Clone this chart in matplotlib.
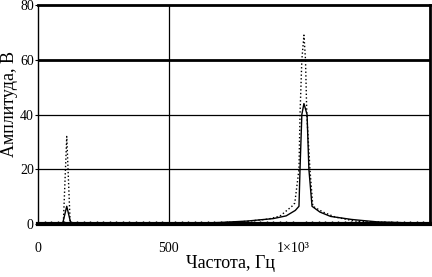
import numpy as np
from matplotlib import pyplot as plt
from matplotlib.ticker import FixedLocator, FixedFormatter, MultipleLocator
from matplotlib.transforms import ScaledTranslation

plt.rcParams['font.family'] = ['Liberation Serif', 'DejaVu Serif']

# Сплошная кривая (частота, Гц / амплитуда, В)
f_sol = [0, 80, 95, 110, 125, 140, 600, 700, 800, 900, 950, 985, 999, 1003,
         1010, 1018, 1030, 1037, 1049, 1079, 1120, 1200, 1232, 1300, 1400, 1500]
a_sol = [0.3, 0.3, 0.5, 6.5, 0.5, 0.3, 0.3, 0.6, 1.1, 2.0, 3.0, 5.0, 6.5, 20,
         40, 44, 40, 20, 6.5, 4.4, 2.8, 1.7, 1.4, 0.8, 0.5, 0.4]

# Пунктирная кривая
f_dot = [0, 85, 97, 110, 123, 135, 600, 700, 800, 880, 926, 972, 983, 999,
         1003, 1010, 1018, 1024, 1029, 1041, 1052, 1091, 1137, 1213, 1300, 1400, 1500]
a_dot = [0.3, 0.3, 0.5, 32, 0.5, 0.3, 0.3, 0.5, 1.0, 1.8, 2.9, 6.5, 7.7, 20,
         40, 60, 69, 60, 40, 20, 6.5, 4.4, 2.6, 1.1, 0.7, 0.5, 0.4]

xticks = [0, 500, 1000]
xtick_labels = ['0', '500', '1×10³']
yticks = [0, 20, 40, 60, 80]

fig = plt.figure(figsize=(4.32, 2.77), dpi=100)
ax = fig.add_axes([0.088, 0.191, 0.907, 0.791])

ax.plot(f_sol, a_sol, color='black', lw=1.0)
ax.plot(f_dot, a_dot, color='black', lw=1.0, ls=':')

# линии сетки
ax.axvline(500, color='black', lw=0.9)
ax.axhline(20, color='black', lw=0.9)
ax.axhline(40, color='black', lw=0.9)
ax.axhline(60, color='black', lw=2.0)

ax.set_xlim(0, 1500)
ax.set_ylim(0, 80)
ax.xaxis.set_major_locator(FixedLocator(xticks))
ax.xaxis.set_major_formatter(FixedFormatter(xtick_labels))
ax.xaxis.set_minor_locator(MultipleLocator(25))
ax.set_yticks(yticks)

for s in ['top', 'right']:
    ax.spines[s].set_linewidth(2.0)
ax.spines['bottom'].set_linewidth(3.0)
ax.spines['left'].set_linewidth(1.0)

ax.tick_params(axis='x', which='major', length=0, pad=13, labelsize=10)
ax.tick_params(axis='x', which='minor', direction='in', length=2, width=1)
ax.tick_params(axis='y', length=2, pad=1, labelsize=10)

# подпись 1×10³ немного левее
lbl = ax.get_xticklabels()[2]
lbl.set_transform(lbl.get_transform() + ScaledTranslation(-6 / 100, 0, fig.dpi_scale_trans))

ax.set_xlabel('Частота, Гц', fontsize=13)
ax.set_ylabel('Амплитуда, В', fontsize=13)
ax.xaxis.set_label_coords(0.49, -0.14)
ax.yaxis.set_label_coords(-0.052, 0.55)

plt.savefig('out.png', dpi=100)
